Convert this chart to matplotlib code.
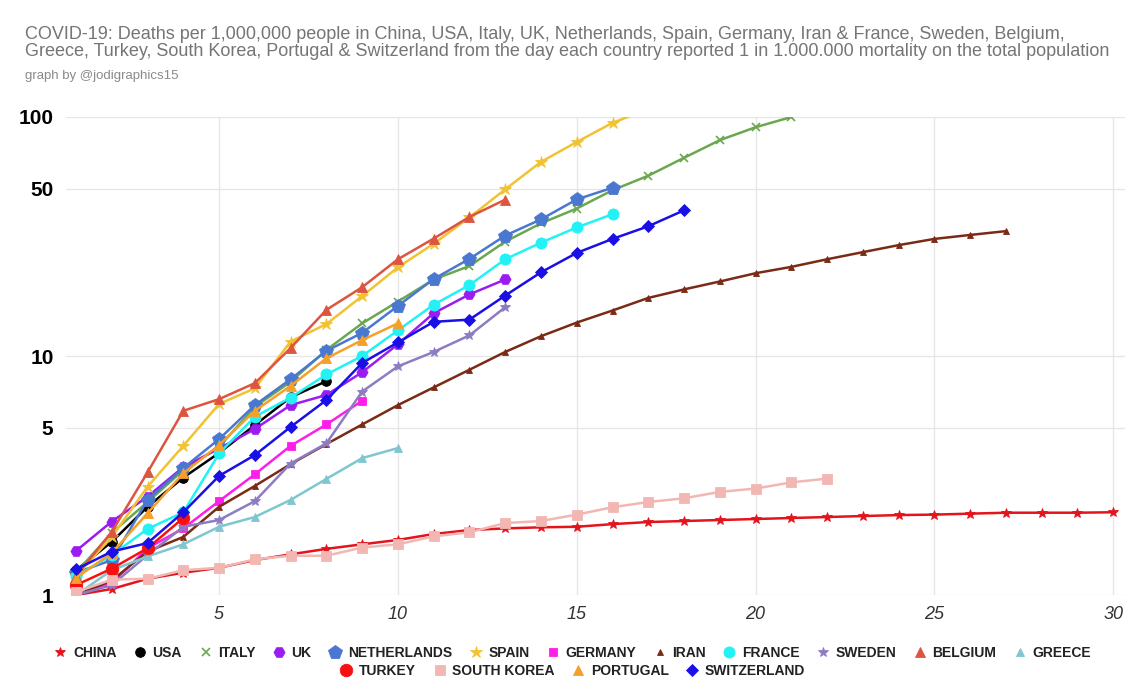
import matplotlib.pyplot as plt
from matplotlib.ticker import FixedLocator, FixedFormatter, NullLocator
from matplotlib.lines import Line2D

plt.rcParams['font.family'] = ['Liberation Sans', 'DejaVu Sans']

# deaths per million, day 1 = first day with 1 death per million
china = [1.0, 1.06, 1.17, 1.24, 1.30, 1.40, 1.48, 1.56, 1.63, 1.70, 1.80, 1.87, 1.90, 1.92,
         1.93, 1.98, 2.02, 2.04, 2.06, 2.08, 2.10, 2.12, 2.14, 2.16, 2.17, 2.19, 2.21, 2.21,
         2.21, 2.22]
usa = [1.27, 1.67, 2.34, 3.10, 3.93, 5.14, 6.72, 7.85]
italy = [1.24, 1.82, 2.45, 3.33, 4.17, 6.13, 7.8, 10.6, 13.7, 16.9, 20.9, 23.8, 30.1, 35.9,
         41.4, 49.4, 56.8, 67.5, 80.0, 90.6, 100.0]
uk = [1.53, 2.03, 2.58, 3.43, 4.10, 4.95, 6.23, 6.87, 8.55, 11.2, 15.1, 18.1, 20.9]
netherlands = [1.24, 1.40, 2.50, 3.40, 4.49, 6.23, 8.0, 10.5, 12.5, 16.2, 21.0, 25.5, 31.9,
               37.3, 45.2, 50.6]
spain = [1.20, 1.75, 2.84, 4.21, 6.30, 7.33, 11.5, 13.6, 17.8, 23.5, 29.5, 38.0, 49.8, 64.9,
         78.6, 94.5, 108.0]
germany = [1.02, 1.12, 1.57, 1.90, 2.47, 3.20, 4.21, 5.17, 6.50]
iran = [1.0, 1.15, 1.52, 1.75, 2.34, 2.86, 3.53, 4.28, 5.17, 6.23, 7.39, 8.76, 10.4, 12.1,
        13.8, 15.5, 17.5, 19.0, 20.5, 22.2, 23.6, 25.4, 27.2, 29.1, 30.9, 32.1, 33.3]
france = [1.20, 1.47, 1.89, 2.22, 3.91, 5.57, 6.70, 8.37, 10.0, 12.8, 16.4, 19.8, 25.4, 29.8,
          34.5, 39.2]
sweden = [1.0, 1.10, 1.47, 1.93, 2.06, 2.47, 3.55, 4.31, 7.10, 9.05, 10.4, 12.2, 16.0]
belgium = [1.20, 1.84, 3.26, 5.90, 6.60, 7.70, 10.8, 15.6, 19.4, 25.4, 31.0, 38.2, 45.1]
greece = [1.0, 1.27, 1.45, 1.63, 1.93, 2.12, 2.50, 3.06, 3.74, 4.12]
turkey = [1.10, 1.29, 1.57, 2.10]
south_korea = [1.03, 1.16, 1.17, 1.27, 1.30, 1.41, 1.46, 1.46, 1.58, 1.63, 1.76, 1.83, 2.00,
               2.04, 2.17, 2.33, 2.45, 2.54, 2.70, 2.79, 2.96, 3.07]
portugal = [1.18, 1.50, 2.20, 3.23, 4.24, 5.90, 7.50, 9.78, 11.65, 13.7]
switzerland = [1.28, 1.52, 1.65, 2.22, 3.15, 3.85, 5.05, 6.54, 9.35, 11.4, 13.9, 14.2, 17.9,
               22.4, 27.0, 30.9, 34.9, 40.7]

names = ["CHINA", "USA", "ITALY", "UK", "NETHERLANDS", "SPAIN", "GERMANY", "IRAN",
         "FRANCE", "SWEDEN", "BELGIUM", "GREECE", "TURKEY", "SOUTH KOREA", "PORTUGAL",
         "SWITZERLAND"]
series = [china, usa, italy, uk, netherlands, spain, germany, iran, france, sweden, belgium,
          greece, turkey, south_korea, portugal, switzerland]
colors = ["#e3141c", "#000000", "#6aa84f", "#9b1cf0", "#4a78d0", "#f1c232", "#ff1ee8",
          "#7b2a16", "#22f2f6", "#8e7cc3", "#dd5540", "#7fc6d0", "#f81010", "#f2b7b3",
          "#f5a02a", "#1a10e6"]
markers = ["*", "o", "x", "H", "p", "*", "s", "^", "o", "*", "^", "^", "o", "s", "^", "D"]
msizes = [7, 7, 6, 8, 10, 9, 6, 5, 8, 7, 7, 6, 9, 7, 7, 6]

fig = plt.figure(figsize=(11.46, 6.83), dpi=100)
ax = fig.add_axes([0.0576, 0.1288, 0.9241, 0.6999])

for vals, name, c, m, ms in zip(series, names, colors, markers, msizes):
    days = list(range(1, len(vals) + 1))
    ax.plot(days, vals, color=c, marker=m, markersize=ms, linewidth=1.8,
            markeredgecolor=c, markeredgewidth=1.2 if m == "x" else 0.6, label=name)

ax.set_yscale("log")
ax.set_ylim(1, 100)
ax.set_xlim(0.72, 30.33)
ax.yaxis.set_major_locator(FixedLocator([1, 5, 10, 50, 100]))
ax.yaxis.set_major_formatter(FixedFormatter(["1", "5", "10", "50", "100"]))
ax.yaxis.set_minor_locator(NullLocator())
ax.set_xticks([5, 10, 15, 20, 25, 30])
ax.grid(True, color="#e6e6e6", linewidth=0.9)
ax.set_axisbelow(True)
for s in ax.spines.values():
    s.set_visible(False)
ax.tick_params(length=0)
ax.tick_params(axis="y", labelsize=15, pad=9)
for t in ax.get_yticklabels():
    t.set_fontweight("bold")
ax.tick_params(axis="x", labelsize=13, labelcolor="#333333", pad=8)
for t in ax.get_xticklabels():
    t.set_fontstyle("italic")

fig.text(0.022, 0.962,
         "COVID-19: Deaths per 1,000,000 people in China, USA, Italy, UK, Netherlands, Spain, Germany, Iran & France, Sweden, Belgium,\n"
         "Greece, Turkey, South Korea, Portugal & Switzerland from the day each country reported 1 in 1.000.000 mortality on the total population",
         fontsize=12.95, color="#757575", va="top", linespacing=1.0)
fig.text(0.022, 0.898, "graph by @jodigraphics15", fontsize=9.5, color="#8a8a8a", va="top")

handles = [Line2D([], [], color=c, marker=m, markersize=ms, linestyle="none",
                  markeredgewidth=1.2 if m == "x" else 0.6)
           for c, m, ms in zip(colors, markers, msizes)]
leg_font = {"size": 10, "weight": "bold"}
fig.legend(handles[:12], names[:12], loc="center", bbox_to_anchor=(0.5, 0.044),
           ncol=12, frameon=False, prop=leg_font, handlelength=0.8,
           handletextpad=0.5, columnspacing=1.3)
fig.legend(handles[12:], names[12:], loc="center", bbox_to_anchor=(0.5, 0.018),
           ncol=4, frameon=False, prop=leg_font, handlelength=0.8,
           handletextpad=0.5, columnspacing=1.3)
for leg in fig.legends:
    for t in leg.get_texts():
        t.set_color("#222222")

fig.savefig("out.png", dpi=100)
